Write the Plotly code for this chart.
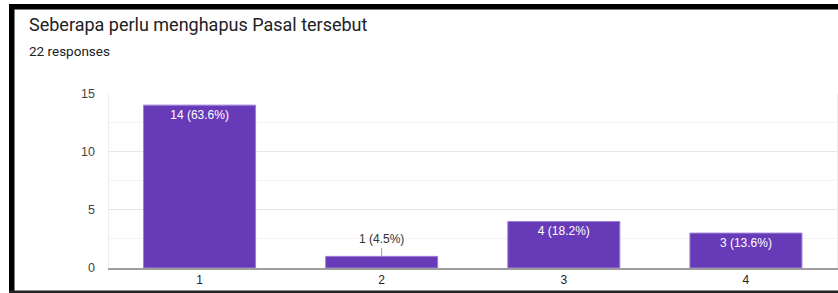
import plotly.graph_objects as go

categories = ["1", "2", "3", "4"]
counts = [14, 1, 4, 3]
total_responses = 22
y_ticks = [0, 5, 10, 15]
title_text = "Seberapa perlu menghapus Pasal tersebut"
subtitle_text = f"{total_responses} responses"

W, H = 838, 293
def px(x):
    return x / W
def py(y):
    return 1 - y / H

labels = [f"{c} ({c / total_responses * 100:.1f}%)" for c in counts]
inside = [c >= 2 for c in counts]

fig = go.Figure()
fig.add_trace(go.Bar(
    x=categories, y=counts,
    text=[l if ins else "" for l, ins in zip(labels, inside)],
    textposition="inside", insidetextanchor="end",
    textfont=dict(color="white", size=12, family="Liberation Sans, Arial"),
    marker=dict(color="#673ab7", line=dict(color="#9c7fd6", width=1)),
    hoverinfo="skip",
))

for i, (cat, c, l, ins) in enumerate(zip(categories, counts, labels, inside)):
    if not ins:
        fig.add_annotation(
            x=i, y=c, text=l, showarrow=True, arrowhead=0, arrowwidth=1,
            arrowcolor="#9e9e9e", ax=0, ay=-17, standoff=0,
            font=dict(color="#333333", size=12, family="Liberation Sans, Arial"),
        )

fig.add_annotation(x=px(27), y=py(24), xref="paper", yref="paper",
                   text=title_text, showarrow=False, xanchor="left", yanchor="middle",
                   font=dict(family="Roboto", size=18, color="#202124"))
fig.add_annotation(x=px(27), y=py(51), xref="paper", yref="paper",
                   text=subtitle_text, showarrow=False, xanchor="left", yanchor="middle",
                   font=dict(family="Roboto", size=13.5, color="#202124"))

# frame
fig.add_shape(type="rect", xref="paper", yref="paper", x0=px(9), x1=px(838), y0=py(4), y1=py(9.5),
              fillcolor="black", line=dict(width=0), layer="above")
fig.add_shape(type="rect", xref="paper", yref="paper", x0=px(9), x1=px(14.5), y0=py(4), y1=py(293),
              fillcolor="black", line=dict(width=0), layer="above")
fig.add_shape(type="rect", xref="paper", yref="paper", x0=px(9), x1=px(838), y0=py(290.5), y1=py(293),
              fillcolor="#222222", line=dict(width=0), layer="above")

fig.update_layout(
    template="none",
    width=W, height=H,
    margin=dict(l=0, r=0, t=0, b=0, pad=0, autoexpand=False),
    paper_bgcolor="white", plot_bgcolor="white",
    showlegend=False, bargap=0.385,
    font=dict(family="Liberation Sans, Arial", size=12, color="#444444"),
    xaxis=dict(type="category", domain=[px(108.5), px(837)], showgrid=False, showline=True,
               automargin=False, linecolor="#9e9e9e", linewidth=2, ticks="",
               tickfont=dict(color="#222222"), fixedrange=True),
    yaxis=dict(domain=[py(268), py(93.5)], range=[0, 15], tickvals=y_ticks, automargin=False,
               showgrid=True, gridcolor="#e6e6e6", gridwidth=1, zeroline=False,
               showline=True, linecolor="#eeeeee", mirror=True, ticks="",
               ticklabelstandoff=10,
               minor=dict(dtick=2.5, showgrid=True, gridcolor="#f3f3f3"),
               tickfont=dict(color="#444444", size=12.5), fixedrange=True),
)

fig.write_html("out.html", config={"displayModeBar": False},
               post_script="document.body.style.margin='0';document.body.style.overflow='hidden';")
